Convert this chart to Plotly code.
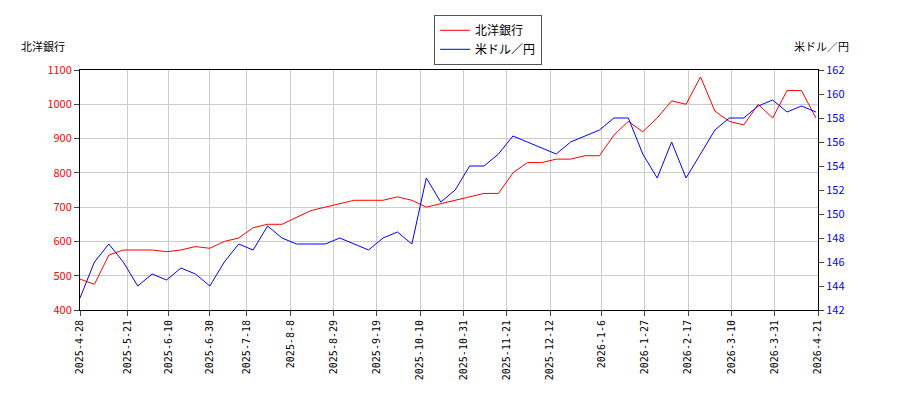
import plotly.graph_objects as go
import pandas as pd

dates = pd.date_range("2025-04-28", periods=52, freq="7D")
bank = [490,475,560,575,575,575,570,575,585,580,600,610,640,650,650,670,690,700,710,720,720,720,730,720,700,710,
        720,730,740,740,800,830,830,840,840,850,850,910,950,920,960,1010,1000,1080,980,950,940,1000,960,1040,1040,960]
usd = [143,146,147.5,146,144,145,144.5,145.5,145,144,146,147.5,147,149,148,147.5,147.5,147.5,148,147.5,147,148,148.5,147.5,153,151,
       152,154,154,155,156.5,156,155.5,155,156,156.5,157,158,158,155,153,156,153,155,157,158,158,159,159.5,158.5,159,158.5]
tick_dates = ["2025-04-28","2025-05-21","2025-06-10","2025-06-30","2025-07-18","2025-08-08","2025-08-29","2025-09-19",
              "2025-10-10","2025-10-31","2025-11-21","2025-12-12","2026-01-06","2026-01-27","2026-02-17","2026-03-10",
              "2026-03-31","2026-04-21"]
tick_text = ["2025-4-28","2025-5-21","2025-6-10","2025-6-30","2025-7-18","2025-8-8","2025-8-29","2025-9-19",
             "2025-10-10","2025-10-31","2025-11-21","2025-12-12","2026-1-6","2026-1-27","2026-2-17","2026-3-10",
             "2026-3-31","2026-4-21"]

fig = go.Figure()
fig.add_trace(go.Scatter(x=dates, y=bank, name="北洋銀行", mode="lines", line=dict(color="red", width=1)))
fig.add_trace(go.Scatter(x=dates, y=usd, name="米ドル／円", mode="lines", line=dict(color="blue", width=1), yaxis="y2"))
fig.update_layout(
    width=900, height=400, paper_bgcolor="white", plot_bgcolor="white",
    margin=dict(l=72, r=90, t=62, b=98, autoexpand=False),
    font=dict(family="Noto Sans CJK JP, DejaVu Sans", size=11, color="black"),
    xaxis=dict(range=["2025-04-28","2026-04-21"], tickvals=tick_dates, ticktext=tick_text, tickangle=-90,
               showgrid=True, gridcolor="#cccccc", linecolor="black", mirror=True, ticks="outside",
               tickfont=dict(family="DejaVu Sans Mono", size=10)),
    yaxis=dict(range=[400,1100], dtick=100, showgrid=True, gridcolor="#cccccc", linecolor="black", mirror=True,
               ticks="outside", tickfont=dict(color="red")),
    yaxis2=dict(range=[142,162], dtick=2, overlaying="y", side="right", showgrid=False, ticks="outside",
                tickfont=dict(color="blue")),
    legend=dict(x=0.553, y=1.23, xanchor="center", yanchor="top", bordercolor="#555", borderwidth=1, font=dict(size=12)),
    annotations=[dict(text="北洋銀行", x=-0.017, y=1.1, xref="paper", yref="paper", xanchor="right", yanchor="middle", showarrow=False),
                 dict(text="米ドル／円", x=1.045, y=1.1, xref="paper", yref="paper", xanchor="right", yanchor="middle", showarrow=False)],
)
fig.write_html("out.html")
